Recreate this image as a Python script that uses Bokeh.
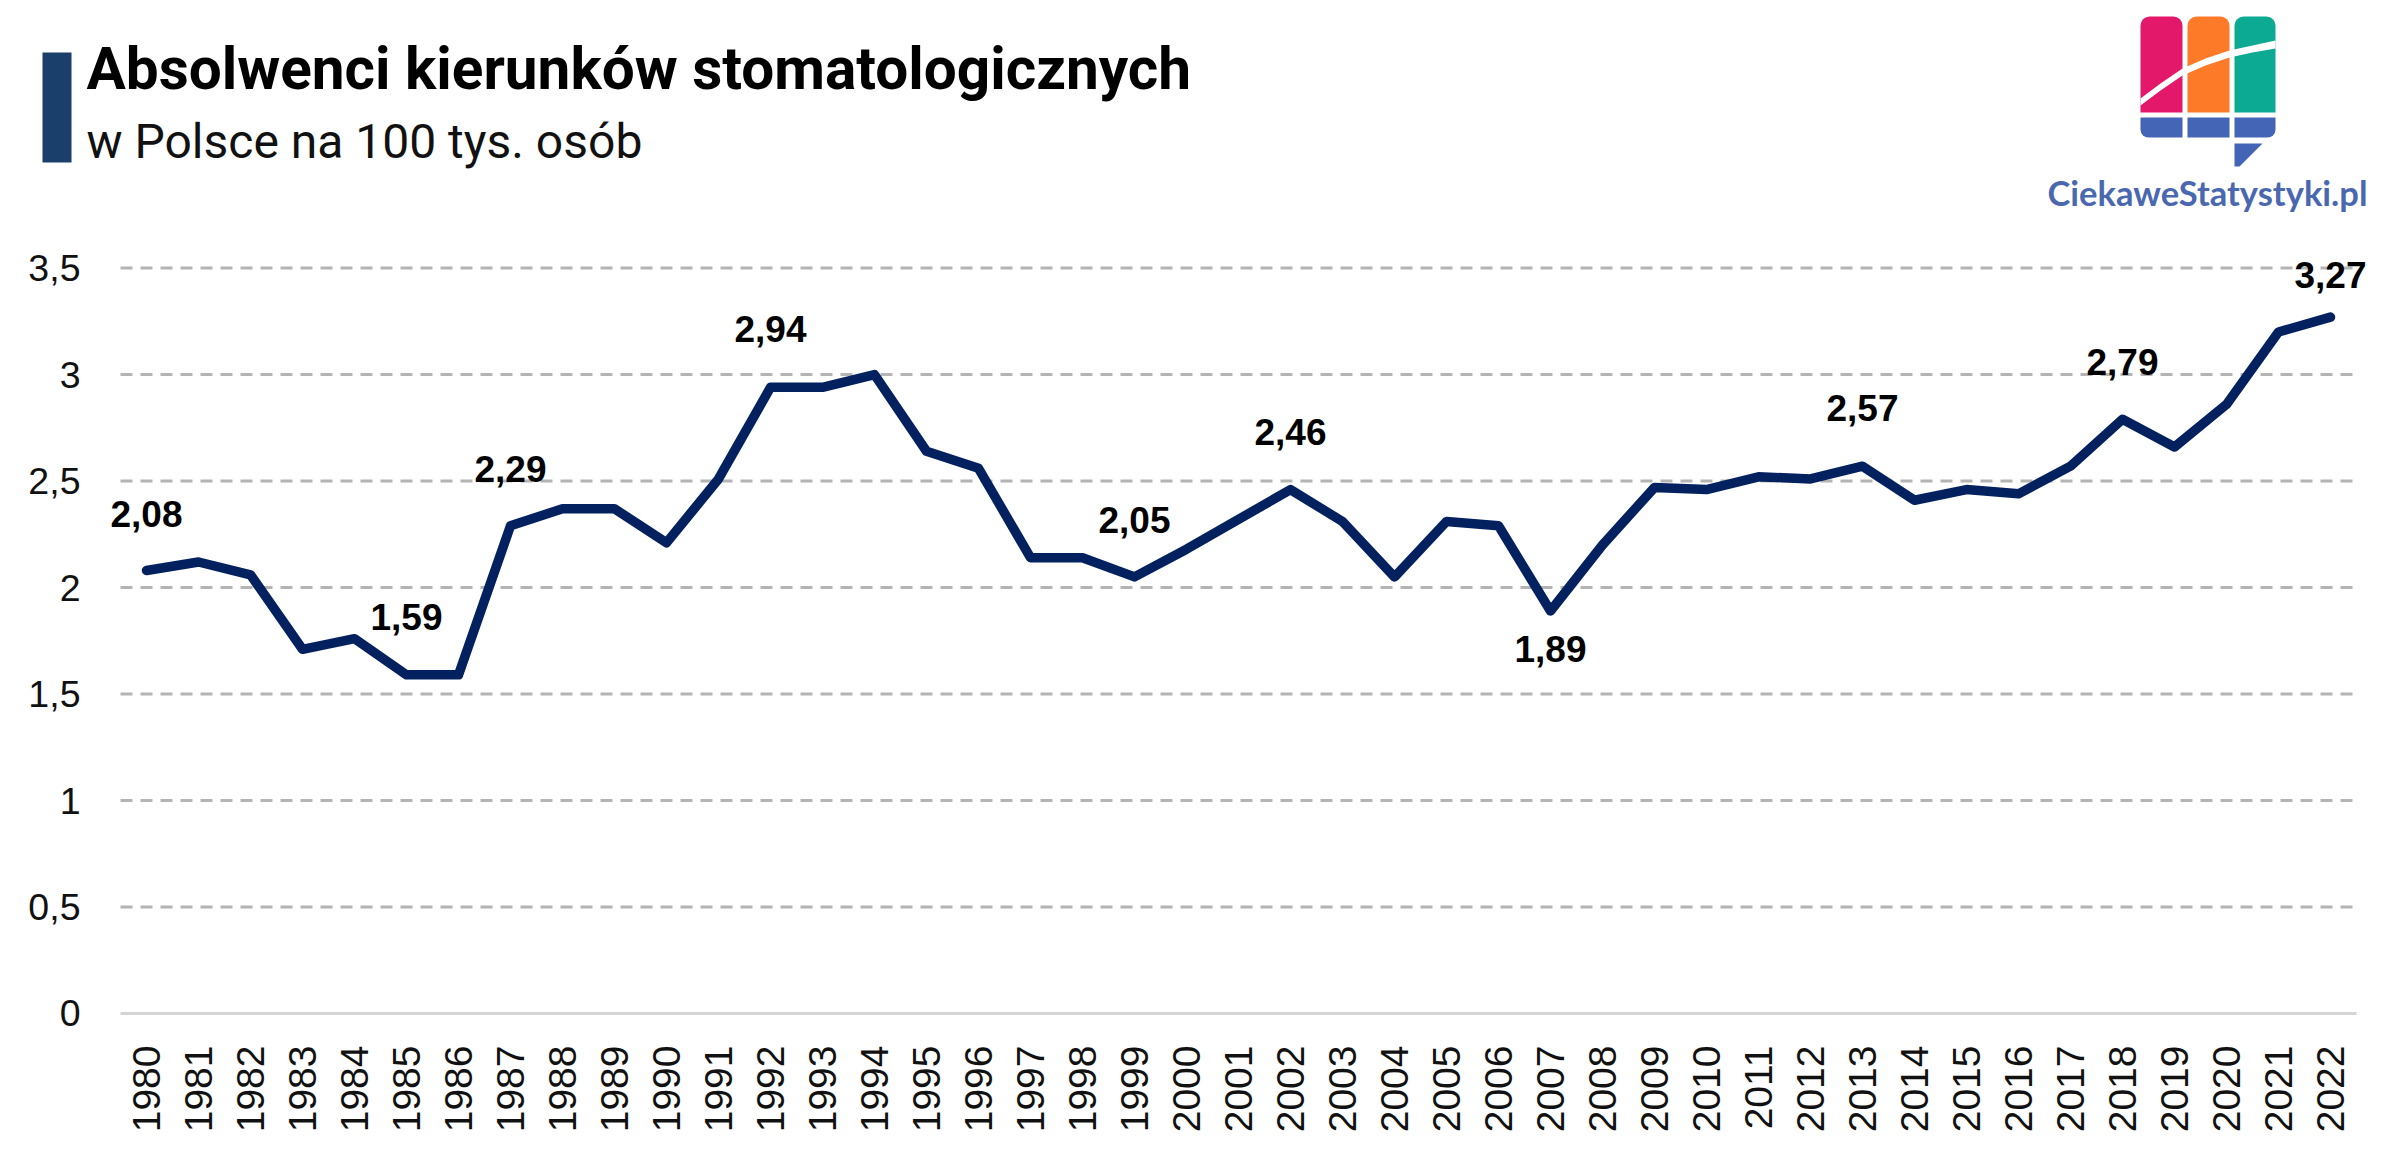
from bokeh.embed import file_html
from bokeh.resources import INLINE
from bokeh.plotting import figure
from bokeh.layouts import column
from bokeh.models import (Range1d, FixedTicker, Label, BoxAnnotation, PolyAnnotation)
import math

years = list(range(1980, 2023))
values = [2.08, 2.12, 2.06, 1.71, 1.76, 1.59, 1.59, 2.29, 2.37, 2.37, 2.21, 2.51, 2.94, 2.94, 3.00,
          2.64, 2.56, 2.14, 2.14, 2.05, 2.18, 2.32, 2.46, 2.31, 2.05, 2.31, 2.29, 1.89, 2.20, 2.47,
          2.46, 2.52, 2.51, 2.57, 2.41, 2.46, 2.44, 2.57, 2.79, 2.66, 2.86, 3.20, 3.27]
y_ticks = [0, 0.5, 1, 1.5, 2, 2.5, 3, 3.5]
y_tick_labels = ["0", "0,5", "1", "1,5", "2", "2,5", "3", "3,5"]
label_years = [1980, 1985, 1987, 1992, 1999, 2002, 2007, 2013, 2018, 2022]
label_dy = [57, 58, 57, 58, 57, 58, -38, 58, 57, 42]

TITLE = "Absolwenci kierunków stomatologicznych"
SUBTITLE = "w Polsce na 100 tys. osób"
BRAND = "CiekaweStatystyki.pl"

W = 2390
HEAD = 225
chart = figure(width=W, height=928, output_backend="svg", toolbar_location=None,
               x_range=Range1d(1979.0, 2023.154),
               y_range=Range1d(-0.0188, 3.7), frame_align=False,
               min_border_left=94, min_border_right=0, min_border_top=0, min_border_bottom=136)
chart.outline_line_color = None
chart.grid.visible = False

# dashed gridlines and the solid baseline stop short of the frame, which is wider to hold the end labels
span = [1979.5, 2022.5]
for level in y_ticks[1:]:
    chart.line(span, [level, level], line_color="#b4b4b4", line_width=3, line_dash=[12, 8])
chart.line(span, [0, 0], line_color="#d4d4d4", line_width=3)

chart.yaxis.ticker = FixedTicker(ticks=y_ticks)
chart.yaxis.major_label_overrides = dict(zip(y_ticks, y_tick_labels))
chart.yaxis.axis_line_color = None
chart.yaxis.major_tick_line_color = None
chart.yaxis.minor_tick_line_color = None
chart.yaxis.major_label_standoff = 8
chart.yaxis.major_label_text_font = "Liberation Sans"
chart.yaxis.major_label_text_font_size = "37.5px"
chart.yaxis.major_label_text_color = "#111111"

chart.xaxis.ticker = FixedTicker(ticks=years)
chart.xaxis.major_label_overrides = {y: str(y) for y in years}
chart.xaxis.axis_line_color = None
chart.xaxis.major_tick_line_color = None
chart.xaxis.minor_tick_line_color = None
chart.xaxis.major_label_orientation = math.pi / 2
chart.xaxis.major_label_standoff = 22
chart.xaxis.major_label_text_font = "Liberation Sans"
chart.xaxis.major_label_text_font_size = "39px"
chart.xaxis.major_label_text_color = "#111111"

chart.line(years, values, line_color="#04215f", line_width=9.5, line_join="round", line_cap="round")

lookup = dict(zip(years, values))
for yr, dy in zip(label_years, label_dy):
    chart.add_layout(Label(x=yr, y=lookup[yr], y_offset=dy,
                           text=f"{lookup[yr]:.2f}".replace(".", ","),
                           text_align="center", text_baseline="middle",
                           text_font="Liberation Sans", text_font_style="bold",
                           text_font_size="37px", text_color="#000000"))

# header strip: one data unit is one page pixel, y grows downwards
head = figure(width=W, height=HEAD, output_backend="svg", toolbar_location=None,
              x_range=Range1d(0, W), y_range=Range1d(HEAD, 0), frame_align=False,
              min_border=0, min_border_left=0, min_border_right=0, min_border_top=0, min_border_bottom=0)
head.axis.visible = False
head.grid.visible = False
head.outline_line_color = None

def box(x0, x1, y0, y1, color, radius=None):
    head.add_layout(BoxAnnotation(left=x0, right=x1, top=y0, bottom=y1,
                                  fill_color=color, fill_alpha=1, line_color=None,
                                  border_radius=radius or 0))

def poly(pts, color):
    head.add_layout(PolyAnnotation(xs=[a for a, b in pts], ys=[b for a, b in pts],
                                   fill_color=color, fill_alpha=1, line_color=None))

def text(x, base, s, font, size, color, style="normal"):
    head.add_layout(Label(x=x, y=base, text=s, text_font=font, text_font_size=size,
                          text_color=color, text_font_style=style, text_baseline="alphabetic"))

box(42, 71, 52, 162, "#1a3f6b")
text(86, 68, TITLE, "Roboto", "58.5px", "#000000", "bold")
text(86, 141, SUBTITLE, "Roboto", "48px", "#111111")

r_top = dict(top_left=9, top_right=9, bottom_left=0, bottom_right=0)
box(2140, 2182, 16, 112, "#e3186b", r_top)
box(2187, 2229, 16, 112, "#fc7a28", r_top)
box(2234, 2275, 16, 112, "#0daa93", r_top)
box(2140, 2182, 117, 137, "#4465b5", dict(top_left=0, top_right=0, bottom_left=8, bottom_right=0))
box(2187, 2229, 117, 137, "#4465b5")
box(2234, 2275, 117, 137, "#4465b5", dict(top_left=0, top_right=0, bottom_left=0, bottom_right=8))
poly([(2234, 143), (2262, 143), (2239, 166), (2234, 166)], "#4465b5")
poly([(2140, 98), (2160, 83), (2182, 68), (2205, 58), (2229, 50), (2252, 45), (2275, 40),
      (2275, 48), (2252, 52), (2229, 57), (2205, 65), (2182, 75), (2160, 90), (2140, 105)], "#ffffff")
text(2047, 192, BRAND, "Lato", "34.5px", "#4a68b0", "bold")

page = column(head, chart, spacing=0)
open("out.html", "w").write(file_html(page, INLINE))
